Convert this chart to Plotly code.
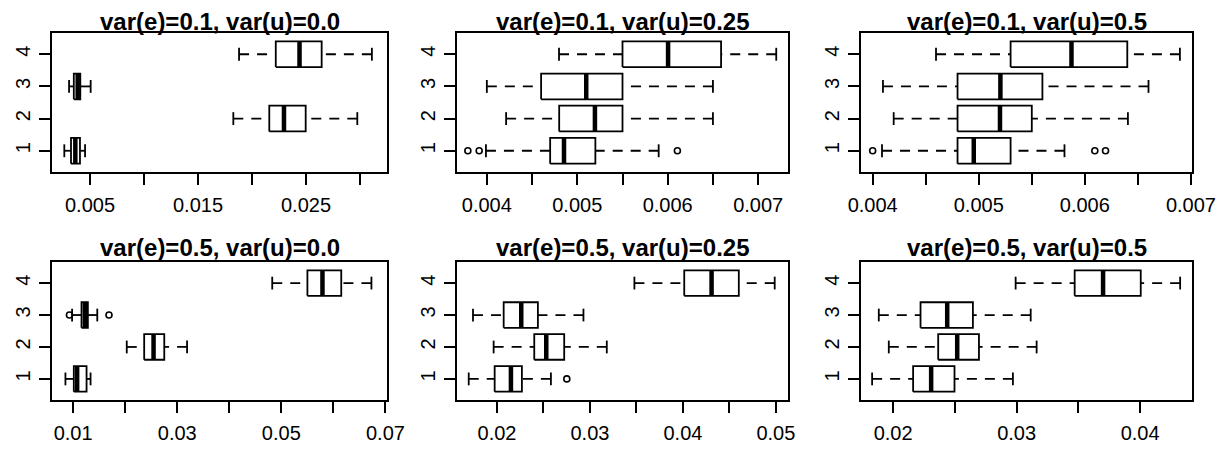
import plotly.graph_objects as go

titles = ["var(e)=0.1, var(u)=0.0", "var(e)=0.1, var(u)=0.25", "var(e)=0.1, var(u)=0.5",
          "var(e)=0.5, var(u)=0.0", "var(e)=0.5, var(u)=0.25", "var(e)=0.5, var(u)=0.5"]
groups = [1, 2, 3, 4]

# one row per panel, values for groups 1..4
whisk_lo = [
    [0.00262, 0.01827, 0.00306, 0.0188],
    [0.00399, 0.004213, 0.0040, 0.004798],
    [0.004088, 0.004198, 0.004097, 0.004597],
    [0.00852, 0.0203, 0.0098, 0.04825],
    [0.01696, 0.01964, 0.01742, 0.03478],
    [0.0183, 0.01965, 0.01884, 0.02992],
]
q1 = [
    [0.00324, 0.0216, 0.0035, 0.0222],
    [0.0047, 0.0048, 0.0046, 0.0055],
    [0.0048, 0.0048, 0.0048, 0.0053],
    [0.01013, 0.02365, 0.01161, 0.05501],
    [0.01975, 0.02401, 0.02072, 0.04014],
    [0.02162, 0.02365, 0.02222, 0.0347],
]
median = [
    [0.00364, 0.02296, 0.00386, 0.0244],
    [0.004853, 0.005195, 0.005099, 0.006004],
    [0.004953, 0.0052, 0.005204, 0.005874],
    [0.01077, 0.02545, 0.01225, 0.0579],
    [0.0215, 0.0253, 0.02261, 0.04308],
    [0.02308, 0.02519, 0.02438, 0.037],
]
q3 = [
    [0.00407, 0.02497, 0.0041, 0.02645],
    [0.0052, 0.0055, 0.0055, 0.00659],
    [0.0053, 0.0055, 0.0056, 0.0064],
    [0.01258, 0.02751, 0.01283, 0.06151],
    [0.02268, 0.02723, 0.0244, 0.04601],
    [0.02497, 0.02695, 0.02646, 0.04005],
]
whisk_hi = [
    [0.00454, 0.02975, 0.00506, 0.0311],
    [0.0059, 0.0065, 0.0065, 0.0072],
    [0.005808, 0.006406, 0.0066, 0.006896],
    [0.01335, 0.03189, 0.01464, 0.06731],
    [0.0258, 0.03181, 0.0293, 0.04987],
    [0.0297, 0.03162, 0.03114, 0.04324],
]
outliers = [
    [[], [], [], []],
    [[0.00379, 0.003915, 0.006107], [], [], []],
    [[0.0040, 0.006094, 0.006195], [], [], []],
    [[], [], [0.00929, 0.01689], []],
    [[0.02751], [], [], []],
    [[], [], [], []],
]

tick_vals = [
    [0.005, 0.010, 0.015, 0.020, 0.025, 0.030],
    [0.004, 0.0045, 0.005, 0.0055, 0.006, 0.0065, 0.007],
    [0.004, 0.0045, 0.005, 0.0055, 0.006, 0.0065, 0.007],
    [0.01, 0.02, 0.03, 0.04, 0.05, 0.06, 0.07],
    [0.02, 0.025, 0.03, 0.035, 0.04, 0.045, 0.05],
    [0.02, 0.025, 0.03, 0.035, 0.04],
]
tick_text = [
    ["0.005", "", "0.015", "", "0.025", ""],
    ["0.004", "", "0.005", "", "0.006", "", "0.007"],
    ["0.004", "", "0.005", "", "0.006", "", "0.007"],
    ["0.01", "", "0.03", "", "0.05", "", "0.07"],
    ["0.02", "", "0.03", "", "0.04", "", "0.05"],
    ["0.02", "", "0.03", "", "0.04"],
]
x_ranges = [
    [0.00148, 0.0325],
    [0.00367, 0.00733],
    [0.00389, 0.00701],
    [0.00594, 0.0703],
    [0.0157, 0.0513],
    [0.0174, 0.0442],
]

# page body has an 8px margin, so the figure is 8px smaller and offset
OFF = 8
W, H = 1227 - OFF, 452 - OFF
col_px = [(52 - OFF, 387 - OFF), (457 - OFF, 788 - OFF), (861 - OFF, 1192 - OFF)]
row_px = [(33 - OFF, 172 - OFF), (262 - OFF, 400 - OFF)]
title_y_px = [21 - OFF, 247 - OFF]

BW = 0.4   # half box width
SW = 0.2   # half staple width
FONT = "Liberation Sans, Arial, sans-serif"

fig = go.Figure()
layout = dict(width=W, height=H, margin=dict(l=0, r=0, t=0, b=0, autoexpand=False),
              paper_bgcolor="white", plot_bgcolor="white", showlegend=False,
              font=dict(family=FONT, color="black"))
annotations = []

for p in range(6):
    r, c = divmod(p, 3)
    k = p + 1
    xa = "x" if k == 1 else f"x{k}"
    ya = "y" if k == 1 else f"y{k}"

    bx, by, mx, my, wx, wy, sx, sy, ox, oy = [], [], [], [], [], [], [], [], [], []
    for gi, g in enumerate(groups):
        lo, a, m, b, hi = whisk_lo[p][gi], q1[p][gi], median[p][gi], q3[p][gi], whisk_hi[p][gi]
        bx += [a, b, b, a, a, None]
        by += [g - BW, g - BW, g + BW, g + BW, g - BW, None]
        mx += [m, m, None]
        my += [g - BW, g + BW, None]
        wx += [lo, a, None, hi, b, None]
        wy += [g, g, None, g, g, None]
        sx += [lo, lo, None, hi, hi, None]
        sy += [g - SW, g + SW, None, g - SW, g + SW, None]
        for v in outliers[p][gi]:
            ox.append(v)
            oy.append(g)

    fig.add_trace(go.Scatter(x=wx, y=wy, mode="lines", xaxis=xa, yaxis=ya,
                             line=dict(color="black", width=1.8, dash="10px,8px"), hoverinfo="skip"))
    fig.add_trace(go.Scatter(x=sx, y=sy, mode="lines", xaxis=xa, yaxis=ya,
                             line=dict(color="black", width=1.8), hoverinfo="skip"))
    fig.add_trace(go.Scatter(x=bx, y=by, mode="lines", xaxis=xa, yaxis=ya,
                             line=dict(color="black", width=1.8), hoverinfo="skip"))
    fig.add_trace(go.Scatter(x=mx, y=my, mode="lines", xaxis=xa, yaxis=ya,
                             line=dict(color="black", width=4.5), hoverinfo="skip"))
    if ox:
        fig.add_trace(go.Scatter(x=ox, y=oy, mode="markers", xaxis=xa, yaxis=ya,
                                 marker=dict(symbol="circle-open", size=6, color="black",
                                             line=dict(width=1.6, color="black")),
                                 hoverinfo="skip"))

    x0, x1 = col_px[c]
    y0, y1 = row_px[r]
    dom_x = [x0 / W, x1 / W]
    dom_y = [1 - y1 / H, 1 - y0 / H]
    axis_common = dict(showline=True, mirror=True, linecolor="black", linewidth=1.8,
                       ticks="outside", ticklen=11, tickwidth=1.8, tickcolor="black",
                       showgrid=False, zeroline=False, automargin=False,
                       tickfont=dict(size=20, family=FONT, color="black"))
    layout["xaxis" if k == 1 else f"xaxis{k}"] = dict(
        axis_common, domain=dom_x, anchor=ya, range=x_ranges[p],
        tickmode="array", tickvals=tick_vals[p], ticktext=tick_text[p], ticklabelstandoff=3)
    layout["yaxis" if k == 1 else f"yaxis{k}"] = dict(
        axis_common, domain=dom_y, anchor=xa, range=[0.34, 4.66],
        tickmode="array", tickvals=groups, ticktext=[str(g) for g in groups],
        tickangle=-90, ticklabelstandoff=1)
    annotations.append(dict(text="<b>" + titles[p] + "</b>", xref="paper", yref="paper",
                            x=(x0 + x1) / 2 / W, y=1 - title_y_px[r] / H,
                            xanchor="center", yanchor="middle", showarrow=False,
                            font=dict(size=24, family=FONT, color="black")))

layout["annotations"] = annotations
fig.update_layout(**layout)
fig.write_html("out.html")
